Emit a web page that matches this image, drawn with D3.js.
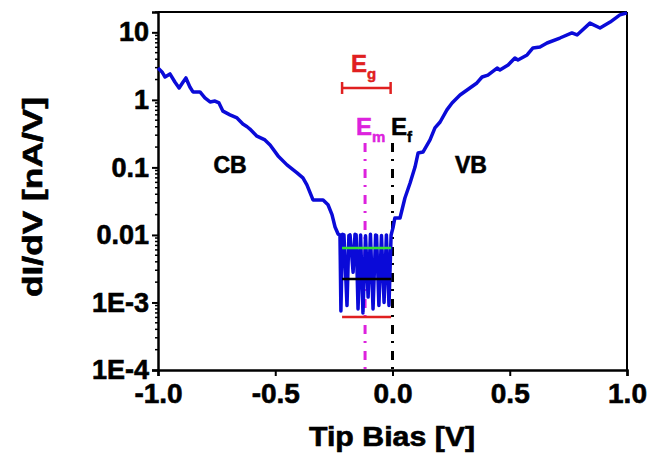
<!DOCTYPE html>
<html>
<head>
<meta charset="utf-8">
<script src="https://cdn.jsdelivr.net/npm/d3@7"></script>
<style>
  html, body { margin: 0; padding: 0; background: #fff; }
  svg { display: block; font-family: "Liberation Sans", Arial, Helvetica, sans-serif; font-weight: bold; }
</style>
</head>
<body>
<svg id="chart" width="653" height="459"></svg>
<script>
// Tunneling spectrum: differential conductance vs tip bias
const biasV = [
  -1.000, -0.983, -0.970, -0.949, -0.928, -0.910, -0.893, -0.881, -0.864, -0.851,
  -0.821, -0.800, -0.778, -0.757, -0.740, -0.723, -0.693, -0.663, -0.638, -0.620,
  -0.608, -0.578, -0.544, -0.522, -0.488, -0.450, -0.407, -0.382, -0.365, -0.339,
  -0.296, -0.275, -0.258, -0.245, -0.232,
  -0.224, -0.220, -0.213, -0.207, -0.194, -0.186, -0.181, -0.168, -0.160, -0.155,
  -0.147, -0.136, -0.126, -0.115, -0.104, -0.094, -0.083, -0.072, -0.068, -0.058,
  -0.047, -0.036, -0.026, -0.015, -0.006,
  0.002, 0.010, 0.032, 0.053, 0.075, 0.096, 0.109, 0.130, 0.160, 0.181,
  0.203, 0.232, 0.254, 0.288, 0.330, 0.360, 0.382, 0.407, 0.446, 0.458,
  0.493, 0.522, 0.535, 0.574, 0.599, 0.629, 0.659, 0.714, 0.765, 0.787,
  0.842, 0.885, 0.928, 0.970, 1.000
];
const dIdV = [
  2.97, 2.59, 2.18, 2.42, 1.84, 1.50, 1.84, 2.11, 1.55, 1.31,
  1.31, 1.07, 0.93, 0.96, 0.90, 0.68, 0.60, 0.54, 0.44, 0.40,
  0.37, 0.29, 0.255, 0.215, 0.148, 0.109, 0.083, 0.070, 0.055, 0.033,
  0.033, 0.028, 0.020, 0.0131, 0.0103,
  0.0100, 0.00075, 0.0102, 0.0100, 0.0009, 0.0098, 0.0100, 0.0028, 0.0102, 0.0100,
  0.0008, 0.0100, 0.0007, 0.0097, 0.0012, 0.0102, 0.0008, 0.0100, 0.0098, 0.0009,
  0.0098, 0.0010, 0.0100, 0.0009, 0.0100,
  0.0127, 0.0178, 0.0178, 0.0352, 0.0587, 0.101, 0.163, 0.169, 0.255, 0.384,
  0.47, 0.71, 0.90, 1.18, 1.50, 1.78, 2.18, 2.33, 2.96, 2.77,
  3.28, 4.17, 3.90, 4.62, 5.87, 6.07, 6.95, 8.24, 9.78, 9.14,
  13.7, 11.6, 14.2, 18.1, 19.4
];

// Axis ticks
const xTicks = [-1.0, -0.5, 0.0, 0.5, 1.0];
const xTickLabels = ["-1.0", "-0.5", "0.0", "0.5", "1.0"];
const yTicks = [1e-4, 1e-3, 1e-2, 1e-1, 1, 10];
const yTickLabels = ["1E-4", "1E-3", "0.01", "0.1", "1", "10"];

// Gap markers
const emBias = -0.117;           // midgap energy
const efBias = 0.0;              // Fermi level
const markerTop = 0.23;          // upper end of the vertical markers
const egSpan = [-0.215, -0.008]; // gap bracket
const egLevel = 1.5;
const noiseSpan = [-0.215, -0.006];
const noiseLevels = [0.0064, 0.00223, 0.00061];
const noiseColors = ["#33dd33", "#000000", "#e02020"];

const svg = d3.select("#chart");
const x = d3.scaleLinear().domain([-1, 1]).range([158, 627]);
const y = d3.scaleLog().domain([1e-4, 20]).range([370, 12]);

const heavy = sel => sel.attr("stroke", "#000").attr("stroke-width", 0.6);

// Frame (top and right)
svg.append("line").attr("x1", x(-1)).attr("x2", x(1)).attr("y1", y(20)).attr("y2", y(20))
  .attr("stroke", "#000").attr("stroke-width", 2);
svg.append("line").attr("x1", x(1)).attr("x2", x(1)).attr("y1", y(20)).attr("y2", y(1e-4))
  .attr("stroke", "#000").attr("stroke-width", 2);

// Minor y ticks
const minorY = [];
for (let e = -4; e <= 1; e++) for (let m = 2; m <= 9; m++) {
  const v = m * Math.pow(10, e);
  if (v <= 20) minorY.push(v);
}
svg.append("g").selectAll("line").data(minorY).join("line")
  .attr("x1", x(-1) - 3).attr("x2", x(-1)).attr("y1", d => y(d)).attr("y2", d => y(d))
  .attr("stroke", "#000").attr("stroke-width", 1.5);

// Y axis
const yAxis = d3.axisLeft(y).tickValues(yTicks)
  .tickFormat((d, i) => yTickLabels[i]).tickSize(6).tickPadding(3);
const gy = svg.append("g").attr("transform", `translate(${x(-1)},0)`).call(yAxis);
gy.select(".domain").attr("stroke-width", 2.5);
gy.selectAll(".tick line").attr("stroke-width", 2);
gy.selectAll(".tick text").attr("font-size", 27).attr("font-weight", "bold")
  .attr("font-family", "Liberation Sans, Arial, sans-serif").attr("fill", "#000").call(heavy);

// X axis
const xAxis = d3.axisBottom(x).tickValues(xTicks)
  .tickFormat((d, i) => xTickLabels[i]).tickSize(6).tickPadding(7);
const gx = svg.append("g").attr("transform", `translate(0,${y(1e-4)})`).call(xAxis);
gx.select(".domain").attr("stroke-width", 2.5);
gx.selectAll(".tick line").attr("stroke-width", 2);
gx.selectAll(".tick text").attr("font-size", 28).attr("font-weight", "bold")
  .attr("font-family", "Liberation Sans, Arial, sans-serif").attr("fill", "#000").call(heavy);

// Axis titles
svg.append("text").attr("x", 392).attr("y", 446).attr("text-anchor", "middle")
  .attr("font-size", 27).attr("textLength", 166).attr("lengthAdjust", "spacingAndGlyphs")
  .call(heavy).text("Tip Bias [V]");
svg.append("text").attr("transform", "translate(42,197) rotate(-90)").attr("text-anchor", "middle")
  .attr("font-size", 27).attr("textLength", 200).attr("lengthAdjust", "spacingAndGlyphs")
  .call(heavy).text("dI/dV [nA/V]");

// Vertical dash-dot markers
svg.append("line").attr("x1", x(emBias)).attr("x2", x(emBias))
  .attr("y1", y(markerTop)).attr("y2", y(1e-4))
  .attr("stroke", "#dd22dd").attr("stroke-width", 3).attr("stroke-dasharray", "9,7,2,8");
svg.append("line").attr("x1", x(efBias)).attr("x2", x(efBias))
  .attr("y1", y(markerTop)).attr("y2", y(1e-4))
  .attr("stroke", "#000").attr("stroke-width", 3).attr("stroke-dasharray", "9,7,2,8");

// Spectrum
const pts = biasV.map((v, i) => [v, dIdV[i]]);
svg.append("path").datum(pts)
  .attr("fill", "none").attr("stroke", "#0a0ad8").attr("stroke-width", 3.5)
  .attr("stroke-linejoin", "round")
  .attr("d", d3.line().x(d => x(d[0])).y(d => y(d[1])));

// Noise-floor levels inside the gap
svg.append("g").selectAll("line").data(noiseLevels).join("line")
  .attr("x1", x(noiseSpan[0])).attr("x2", x(noiseSpan[1]))
  .attr("y1", d => y(d)).attr("y2", d => y(d))
  .attr("stroke", (d, i) => noiseColors[i]).attr("stroke-width", 2.5);

// Gap bracket
const eg = svg.append("g").attr("stroke", "#e02020").attr("stroke-width", 2.5);
eg.append("line").attr("x1", x(egSpan[0])).attr("x2", x(egSpan[1]))
  .attr("y1", y(egLevel)).attr("y2", y(egLevel));
egSpan.forEach(v => eg.append("line").attr("x1", x(v)).attr("x2", x(v))
  .attr("y1", y(egLevel) - 6).attr("y2", y(egLevel) + 6));

// Labels
function subLabel(xp, yp, main, sub, color) {
  const t = svg.append("text").attr("x", xp).attr("y", yp).attr("fill", color)
    .attr("font-size", 24).attr("stroke", color).attr("stroke-width", 0.5);
  t.append("tspan").text(main);
  t.append("tspan").attr("dy", 7).attr("font-size", 15).text(sub);
}
subLabel(351, 72, "E", "g", "#e02020");
subLabel(356, 135, "E", "m", "#dd22dd");
subLabel(391, 135, "E", "f", "#000");

svg.append("text").attr("x", 230).attr("y", 173).attr("text-anchor", "middle")
  .attr("font-size", 23).call(heavy).text("CB");
svg.append("text").attr("x", 471).attr("y", 173).attr("text-anchor", "middle")
  .attr("font-size", 23).call(heavy).text("VB");
</script>
</body>
</html>
